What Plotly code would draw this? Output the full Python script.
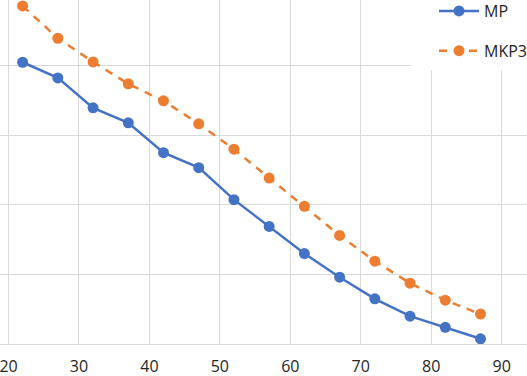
import plotly.graph_objects as go

x_vals = [22, 27, 32, 37, 42, 47, 52, 57, 62, 67, 72, 77, 82, 87]
mp_vals = [81.0, 76.5, 67.9, 63.6, 55.0, 50.7, 41.5, 33.8, 26.0, 19.2, 13.0, 8.0, 4.8, 1.5]
mkp3_vals = [97.2, 87.9, 81.1, 74.8, 69.9, 63.3, 56.0, 47.7, 39.6, 31.2, 23.8, 17.5, 12.6, 8.6]
x_ticks = [20, 30, 40, 50, 60, 70, 80, 90]

blue = "#4472C4"
orange = "#ED7D31"
grid = "#D9D9D9"

fig = go.Figure()
fig.add_trace(go.Scatter(
    x=x_vals, y=mp_vals, name="MP", mode="lines+markers", legendgroup="a",
    line=dict(color=blue, width=2.5),
    marker=dict(color=blue, size=11),
))
fig.add_trace(go.Scatter(
    x=x_vals, y=mkp3_vals, name="MKP3", mode="lines+markers", legendgroup="b",
    line=dict(color=orange, width=2.5, dash="8px,7px"),
    marker=dict(color=orange, size=11),
))

# white backdrop behind the legend (covers gridlines as in the reference)
fig.add_shape(
    type="rect", xref="paper", yref="paper",
    x0=411 / 527, x1=1.01, y0=1 - 70 / 344, y1=1.01,
    fillcolor="white", line=dict(width=0), layer="above",
)

fig.update_layout(
    width=527, height=376,
    margin=dict(l=0, r=0, t=0, b=32, autoexpand=False),
    paper_bgcolor="white", plot_bgcolor="white",
    font=dict(family="Open Sans, Liberation Sans, sans-serif", size=16, color="#262626"),
    showlegend=True,
    legend=dict(
        xref="paper", yref="paper",
        x=1 + 5 / 527, xanchor="right", y=1 + 6 / 344, yanchor="top",
        bgcolor="rgba(0,0,0,0)", traceorder="grouped", tracegroupgap=16,
        font=dict(size=16, color="#262626"),
        itemwidth=40,
    ),
    xaxis=dict(
        range=[18.79, 93.6], tickvals=x_ticks, ticktext=[str(t) for t in x_ticks],
        showgrid=True, gridcolor=grid, gridwidth=1.3, automargin=False,
        zeroline=False, showline=True, linecolor=grid, linewidth=1.3,
        ticks="", ticklen=0, ticklabelstandoff=8, ticklabeloverflow="allow",
        tickfont=dict(size=16, color="#262626"),
    ),
    yaxis=dict(
        range=[0, 98.9], dtick=20, tick0=0, automargin=False,
        showgrid=True, gridcolor=grid, gridwidth=1.3,
        zeroline=False, showticklabels=False, showline=False, ticks="",
    ),
)

fig.write_html(
    "out.html",
    config={"displayModeBar": False},
    post_script="document.body.style.margin='0';document.body.style.overflow='hidden';",
)
